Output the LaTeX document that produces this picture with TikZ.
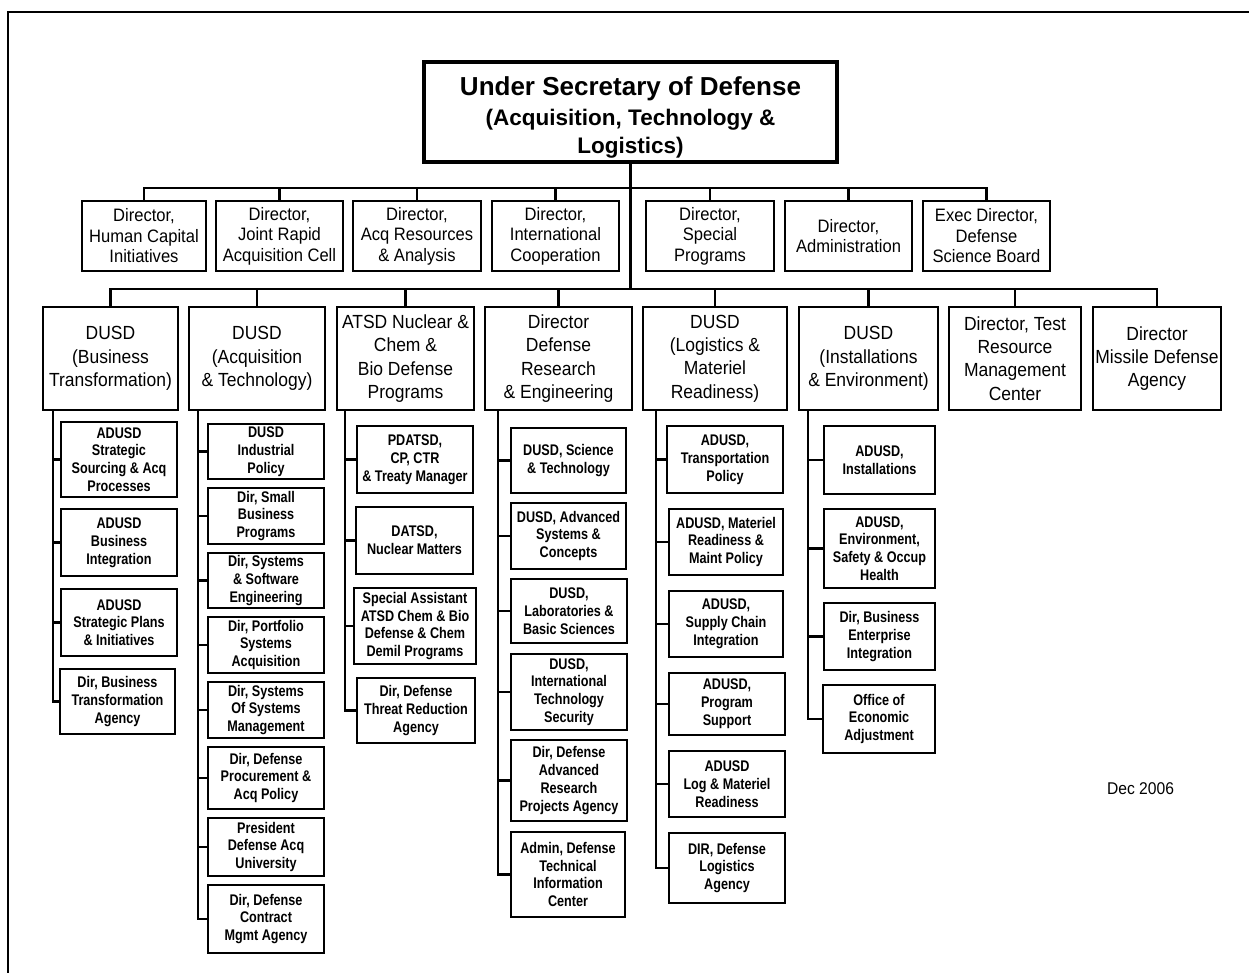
\documentclass[tikz,border=0pt]{standalone}
\usepackage{fontspec}
\setmainfont{Liberation Sans}
\newfontfamily\narrowfont[FakeStretch=0.92]{Liberation Sans}
\newfontfamily\narrowbold[FakeStretch=0.82]{Liberation Sans Bold}

\begin{document}
\begin{tikzpicture}[x=1pt, y=-1pt,
    box/.style={draw, line width=1.3pt, inner sep=1pt, align=center},
    topbox/.style={box, line width=3.2pt, minimum width=413pt, minimum height=100pt,
      font={\bfseries\fontsize{22.5}{28.5}\selectfont}},
    dirbox/.style={box, minimum height=70pt, font={\narrowfont\fontsize{18}{20.5}\selectfont}},
    headbox/.style={box, minimum height=103pt, font={\narrowfont\fontsize{19}{23.3}\selectfont}},
    subbox/.style={box, font={\narrowbold\fontsize{15.4}{17.8}\selectfont}},
    bus/.style={line width=2.4pt},
    frame/.style={line width=2.2pt}]
  \useasboundingbox (0,0) rectangle (1249,972);
  \clip (0,0) rectangle (1249,972);
  \fill[white] (0,0) rectangle (1249,972);
  \draw[frame] (8,1000) -- (8,12) -- (1280,12);

  % under secretary
  \node[topbox] (usd) at (630.5,112) {\rule{0pt}{30pt}{\fontsize{26}{28.5}\selectfont Under Secretary of Defense}\\[1.5pt]
    (Acquisition, Technology \&\\ Logistics)};

  % directors, first row
  \node[dirbox, minimum width=124pt] (hc) at (144,236) {Director,\\Human Capital\\Initiatives};
  \node[dirbox, minimum width=127pt] (jr) at (279.5,236) {Director,\\Joint Rapid\\Acquisition Cell};
  \node[dirbox, minimum width=128pt] (ar) at (417,236) {Director,\\Acq Resources\\\& Analysis};
  \node[dirbox, minimum width=127pt] (ic) at (555.5,236) {Director,\\International\\Cooperation};
  \node[dirbox, minimum width=128pt] (sp) at (710,236) {Director,\\Special\\Programs};
  \node[dirbox, minimum width=127pt] (ad) at (848.5,236) {Director,\\Administration};
  \node[dirbox, minimum width=127pt] (sb) at (986.5,236) {Exec Director,\\Defense\\Science Board};

  % second row
  \node[headbox, minimum width=135pt] (bt) at (110.5,358.5) {DUSD\\(Business\\Transformation)};
  \node[headbox, minimum width=136pt] (at) at (257,358.5) {DUSD\\(Acquisition\\\& Technology)};
  \node[headbox, minimum width=137pt] (nc) at (405.5,358.5) {ATSD Nuclear \&\\Chem \&\\Bio Defense\\Programs};
  \node[headbox, minimum width=147pt] (re) at (558.5,358.5) {Director\\Defense\\Research\\\& Engineering};
  \node[headbox, minimum width=144pt] (lm) at (715,358.5) {DUSD\\(Logistics \&\\Materiel\\Readiness)};
  \node[headbox, minimum width=139pt] (ie) at (868.5,358.5) {DUSD\\(Installations\\\& Environment)};
  \node[headbox, minimum width=132pt] (tr) at (1015,358.5) {Director, Test\\Resource\\Management\\Center};
  \node[headbox, minimum width=128pt] (md) at (1157,358.5) {Director\\Missile Defense\\Agency};

  % business transformation
  \node[subbox, minimum width=116pt, minimum height=75pt] (bt1) at (119,459.5) {ADUSD\\Strategic\\Sourcing \& Acq\\Processes};
  \node[subbox, minimum width=116pt, minimum height=67pt] (bt2) at (119,542.5) {ADUSD\\Business\\Integration};
  \node[subbox, minimum width=116pt, minimum height=67pt] (bt3) at (119,622.5) {ADUSD\\Strategic Plans\\\& Initiatives};
  \node[subbox, minimum width=115pt, minimum height=65pt] (bt4) at (117.5,701.5) {Dir, Business\\Transformation\\Agency};

  % acquisition and technology
  \node[subbox, minimum width=116pt, minimum height=55pt] (at1) at (266,451.5) {DUSD\\Industrial\\Policy};
  \node[subbox, minimum width=116pt, minimum height=56pt] (at2) at (266,516) {Dir, Small\\Business\\Programs};
  \node[subbox, minimum width=116pt, minimum height=55pt] (at3) at (266,580.5) {Dir, Systems\\\& Software\\Engineering};
  \node[subbox, minimum width=116pt, minimum height=56pt] (at4) at (266,645) {Dir, Portfolio\\Systems\\Acquisition};
  \node[subbox, minimum width=116pt, minimum height=56pt] (at5) at (266,710) {Dir, Systems\\Of Systems\\Management};
  \node[subbox, minimum width=116pt, minimum height=62pt] (at6) at (266,778) {Dir, Defense\\Procurement \&\\Acq Policy};
  \node[subbox, minimum width=116pt, minimum height=58pt] (at7) at (266,847) {President\\Defense Acq\\University};
  \node[subbox, minimum width=116pt, minimum height=68pt] (at8) at (266,919) {Dir, Defense\\Contract\\Mgmt Agency};

  % nuclear, chem, bio
  \node[subbox, minimum width=116pt, minimum height=67pt] (nc1) at (415,459.5) {PDATSD,\\CP, CTR\\\& Treaty Manager};
  \node[subbox, minimum width=117pt, minimum height=67pt] (nc2) at (414.5,540.5) {DATSD,\\Nuclear Matters};
  \node[subbox, minimum width=122pt, minimum height=76pt] (nc3) at (415,626) {Special Assistant\\ATSD Chem \& Bio\\Defense \& Chem\\Demil Programs};
  \node[subbox, minimum width=118pt, minimum height=65pt] (nc4) at (416,710.5) {Dir, Defense\\Threat Reduction\\Agency};

  % research and engineering
  \node[subbox, minimum width=115pt, minimum height=65pt] (re1) at (568.5,460.5) {DUSD, Science\\\& Technology};
  \node[subbox, minimum width=115pt, minimum height=66pt] (re2) at (568.5,536) {DUSD, Advanced\\Systems \&\\Concepts};
  \node[subbox, minimum width=116pt, minimum height=64pt] (re3) at (569,611) {DUSD,\\Laboratories \&\\Basic Sciences};
  \node[subbox, minimum width=116pt, minimum height=76pt] (re4) at (569,692) {DUSD,\\International\\Technology\\Security};
  \node[subbox, minimum width=116pt, minimum height=81pt] (re5) at (569,780.5) {Dir, Defense\\Advanced\\Research\\Projects Agency};
  \node[subbox, minimum width=114pt, minimum height=85pt] (re6) at (568,874.5) {Admin, Defense\\Technical\\Information\\Center};

  % logistics and materiel readiness
  \node[subbox, minimum width=116pt, minimum height=67pt] (lm1) at (725,459.5) {ADUSD,\\Transportation\\Policy};
  \node[subbox, minimum width=114pt, minimum height=66pt] (lm2) at (726,542) {ADUSD, Materiel\\Readiness \&\\Maint Policy};
  \node[subbox, minimum width=114pt, minimum height=66pt] (lm3) at (726,624) {ADUSD,\\Supply Chain\\Integration};
  \node[subbox, minimum width=116pt, minimum height=62pt] (lm4) at (727,704) {ADUSD,\\Program\\Support};
  \node[subbox, minimum width=116pt, minimum height=66pt] (lm5) at (727,784) {ADUSD\\Log \& Materiel\\Readiness};
  \node[subbox, minimum width=116pt, minimum height=70pt] (lm6) at (727,868) {DIR, Defense\\Logistics\\Agency};

  % installations and environment
  \node[subbox, minimum width=111pt, minimum height=68pt] (ie1) at (879.5,460) {ADUSD,\\Installations};
  \node[subbox, minimum width=111pt, minimum height=79pt] (ie2) at (879.5,548.5) {ADUSD,\\Environment,\\Safety \& Occup\\Health};
  \node[subbox, minimum width=111pt, minimum height=67pt] (ie3) at (879.5,636.5) {Dir, Business\\Enterprise\\Integration};
  \node[subbox, minimum width=112pt, minimum height=68pt] (ie4) at (879,719) {Office of\\Economic\\Adjustment};

  \node[font={\narrowfont\fontsize{17}{20}\selectfont}] (date) at (1140.5,789) {Dec 2006};

  % buses
  \coordinate (b1) at (0,188);
  \coordinate (b2) at (0,289);
  \draw[bus] (usd.south) -- (usd.south |- b2);
  \draw[bus] (hc.north) |- (sb.north |- b1) -- (sb.north);
  \path[bus]
  (jr.north) edge (jr.north |- b1)
  (ar.north) edge (ar.north |- b1)
  (ic.north) edge (ic.north |- b1)
  (sp.north) edge (sp.north |- b1)
  (ad.north) edge (ad.north |- b1);
  \draw[bus] (bt.north) |- (md.north |- b2) -- (md.north);
  \path[bus]
  (at.north) edge (at.north |- b2)
  (nc.north) edge (nc.north |- b2)
  (re.north) edge (re.north |- b2)
  (lm.north) edge (lm.north |- b2)
  (ie.north) edge (ie.north |- b2)
  (tr.north) edge (tr.north |- b2);

  % spines
  \coordinate (btsp) at (53,410);
  \coordinate (atsp) at (198,410);
  \coordinate (ncsp) at (345,410);
  \coordinate (resp) at (498,410);
  \coordinate (lmsp) at (656,410);
  \coordinate (iesp) at (808,410);

  \draw[bus] (btsp) |- (bt4.west);
  \path[bus]
  (btsp |- bt1.west) edge (bt1.west)
  (btsp |- bt2.west) edge (bt2.west)
  (btsp |- bt3.west) edge (bt3.west);

  \draw[bus] (atsp) |- (at8.west);
  \path[bus]
  (atsp |- at1.west) edge (at1.west)
  (atsp |- at2.west) edge (at2.west)
  (atsp |- at3.west) edge (at3.west)
  (atsp |- at4.west) edge (at4.west)
  (atsp |- at5.west) edge (at5.west)
  (atsp |- at6.west) edge (at6.west)
  (atsp |- at7.west) edge (at7.west);

  \draw[bus] (ncsp) |- (nc4.west);
  \path[bus]
  (ncsp |- nc1.west) edge (nc1.west)
  (ncsp |- nc2.west) edge (nc2.west)
  (ncsp |- nc3.west) edge (nc3.west);

  \draw[bus] (resp) |- (re6.west);
  \path[bus]
  (resp |- re1.west) edge (re1.west)
  (resp |- re2.west) edge (re2.west)
  (resp |- re3.west) edge (re3.west)
  (resp |- re4.west) edge (re4.west)
  (resp |- re5.west) edge (re5.west);

  \draw[bus] (lmsp) |- (lm6.west);
  \path[bus]
  (lmsp |- lm1.west) edge (lm1.west)
  (lmsp |- lm2.west) edge (lm2.west)
  (lmsp |- lm3.west) edge (lm3.west)
  (lmsp |- lm4.west) edge (lm4.west)
  (lmsp |- lm5.west) edge (lm5.west);

  \draw[bus] (iesp) |- (ie4.west);
  \path[bus]
  (iesp |- ie1.west) edge (ie1.west)
  (iesp |- ie2.west) edge (ie2.west)
  (iesp |- ie3.west) edge (ie3.west);
\end{tikzpicture}
\end{document}
